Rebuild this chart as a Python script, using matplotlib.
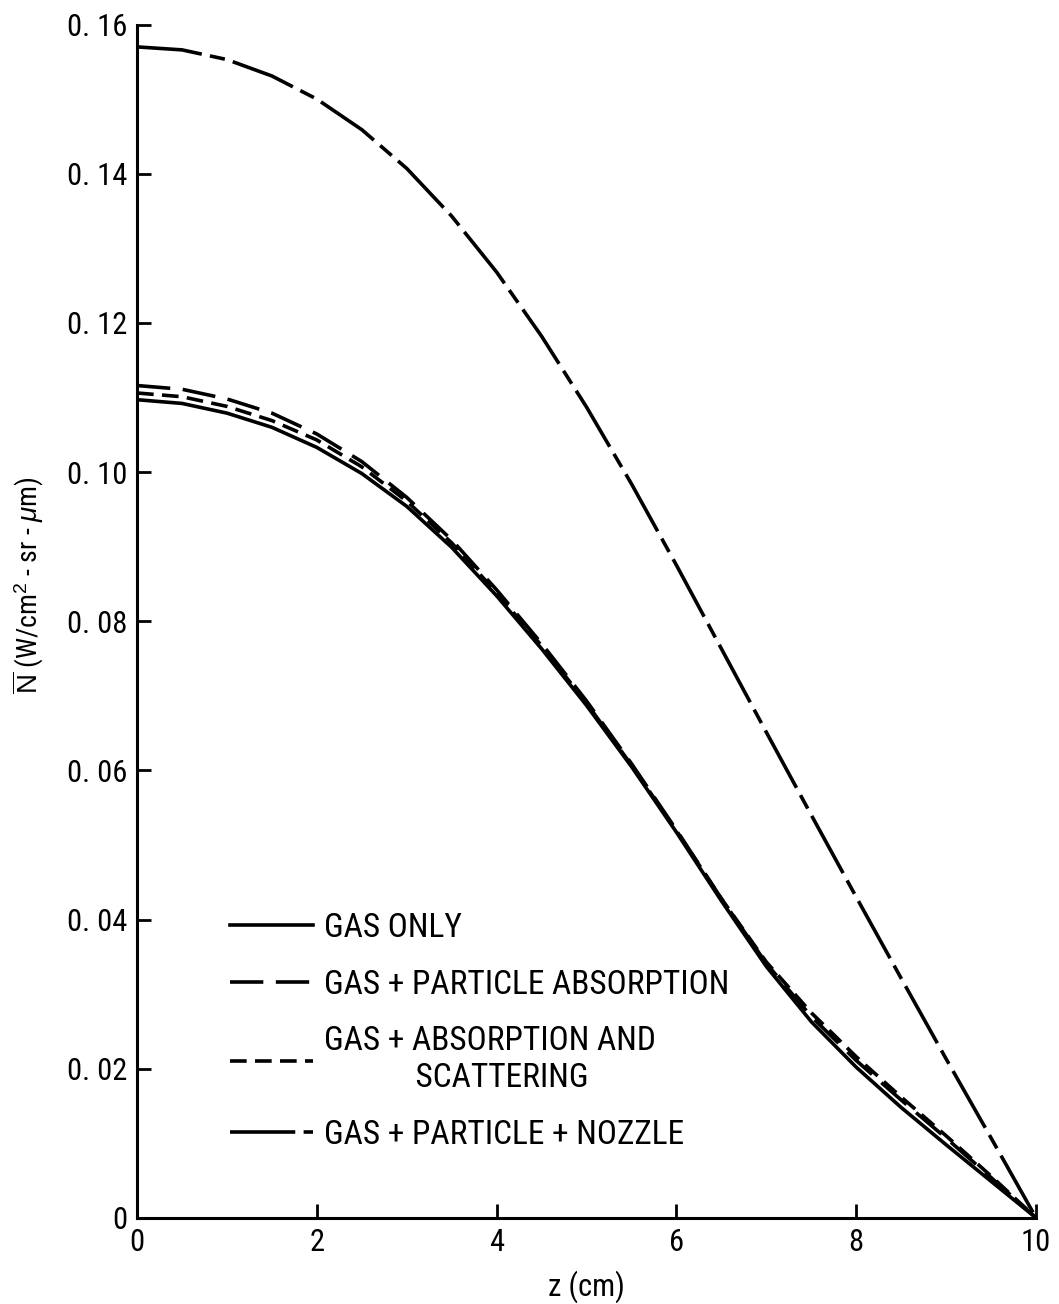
import numpy as np
import matplotlib.pyplot as plt

plt.rcParams['font.family'] = ['Roboto Condensed', 'Liberation Sans Narrow', 'Liberation Sans', 'DejaVu Sans']
plt.rcParams['font.stretch'] = 'condensed'
plt.rcParams['mathtext.fontset'] = 'custom'
plt.rcParams['mathtext.rm'] = 'Liberation Sans'
plt.rcParams['mathtext.it'] = 'Liberation Sans:italic'
plt.rcParams['lines.scale_dashes'] = False

z = np.arange(0, 10.5, 0.5)

gas_only = [0.1097, 0.1092, 0.1079, 0.1060, 0.1033, 0.0998, 0.0954, 0.0899,
            0.0834, 0.0763, 0.0687, 0.0605, 0.0517, 0.0425, 0.0337, 0.0263,
            0.0202, 0.0148, 0.0098, 0.0049, 0.0]
particle_abs = [0.1116, 0.1111, 0.1098, 0.1079, 0.1051, 0.1014, 0.0966, 0.0909,
                0.0842, 0.0770, 0.0693, 0.0609, 0.0520, 0.0428, 0.0341, 0.0270,
                0.0211, 0.0158, 0.0107, 0.0054, 0.0]
abs_scatter = [0.1106, 0.1101, 0.1088, 0.1069, 0.1043, 0.1007, 0.0961, 0.0905,
               0.0838, 0.0767, 0.0690, 0.0607, 0.0519, 0.0428, 0.0343, 0.0275,
               0.0216, 0.0162, 0.0110, 0.0056, 0.0]
nozzle = [0.1570, 0.1566, 0.1553, 0.1531, 0.1500, 0.1459, 0.1407, 0.1343,
          0.1268, 0.1182, 0.1087, 0.0984, 0.0875, 0.0763, 0.0651, 0.0540,
          0.0430, 0.0321, 0.0213, 0.0107, 0.0]

labels = ['GAS ONLY',
          'GAS + PARTICLE ABSORPTION',
          'GAS + ABSORPTION AND\n            SCATTERING',
          'GAS + PARTICLE + NOZZLE']

xticks = [0, 2, 4, 6, 8, 10]
yticks = [0, 0.02, 0.04, 0.06, 0.08, 0.10, 0.12, 0.14, 0.16]
ytick_labels = ['0', '0. 02', '0. 04', '0. 06', '0. 08', '0. 10', '0. 12', '0. 14', '0. 16']

fig = plt.figure(figsize=(10.59, 13.04), dpi=100)
ax = fig.add_axes([0.1294, 0.066, 0.849, 0.9152])

lw = 2.6
ax.plot(z, gas_only, color='black', lw=lw, linestyle='-', label=labels[0])
ax.plot(z, particle_abs, color='black', lw=lw, linestyle=(0, (24, 9)), label=labels[1])
ax.plot(z, abs_scatter, color='black', lw=lw, linestyle=(0, (12, 6)), label=labels[2])
ax.plot(z, nozzle, color='black', lw=lw, linestyle=(0, (47, 6, 11, 6)), label=labels[3])

ax.set_xlim(0, 10)
ax.set_ylim(0, 0.16)
ax.set_xticks(xticks)
ax.set_xticklabels([str(t) for t in xticks])
ax.set_yticks(yticks)
ax.set_yticklabels(ytick_labels)

for s in ['top', 'right']:
    ax.spines[s].set_visible(False)
for s in ['left', 'bottom']:
    ax.spines[s].set_linewidth(2.2)

ax.tick_params(direction='in', length=10, width=2, labelsize=22, pad=7)

ax.set_xlabel('z (cm)', fontsize=22, labelpad=10)
ax.set_ylabel(r'$\overline{\rm N}$ (W/cm$^{\rm 2}$ - sr - $\mu$m)', fontsize=20)
ax.yaxis.set_label_coords(-0.101, 0.53)

leg = ax.legend(loc='lower left', bbox_to_anchor=(0.103, 0.056), frameon=False,
                fontsize=24, handlelength=2.5, handletextpad=0.33, labelspacing=0.74,
                borderpad=0, borderaxespad=0)

fig.savefig('out.png', dpi=100)
